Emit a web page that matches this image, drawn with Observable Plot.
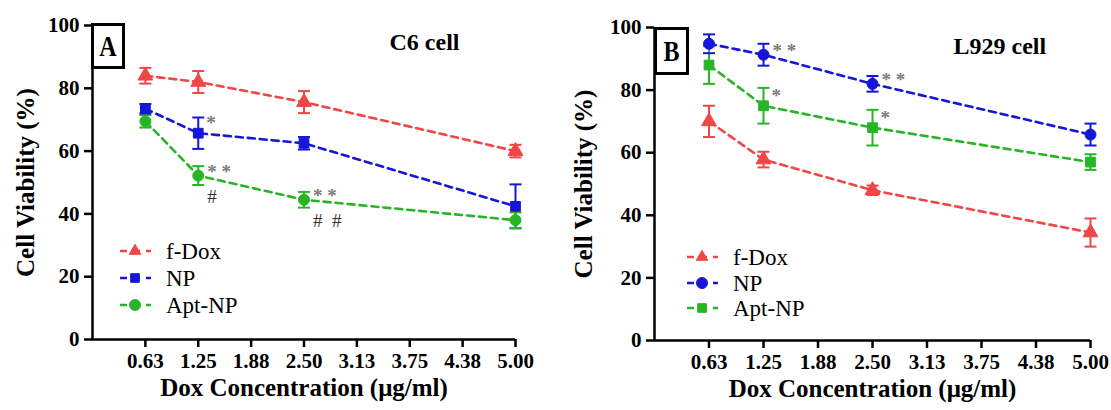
<!DOCTYPE html>
<html><head><meta charset="utf-8">
<script src="https://cdn.jsdelivr.net/npm/d3@7"></script>
<script src="https://cdn.jsdelivr.net/npm/@observablehq/plot@0.6"></script>
<style>
body{margin:0;background:#fff;}
#wrap{position:relative;width:1111px;height:410px;font-family:"Liberation Serif",serif;overflow:hidden;}
#wrap svg, #wrap svg text{font-family:"Liberation Serif",serif !important;}
.panel{position:absolute;top:0;}
.tag{position:absolute;border:3px solid #000;box-sizing:border-box;display:flex;align-items:center;justify-content:center;font-weight:bold;font-size:24px;background:#fff;color:#000;font-family:"Liberation Serif",serif;}
.tag span{display:inline-block;transform:scaleY(1.25);}
</style></head><body><div id="wrap"></div>
<script>
// ---- data ----
const doses = [0.625, 1.25, 2.5, 5];
const xTicks = [0.625, 1.25, 1.875, 2.5, 3.125, 3.75, 4.375, 5];
const xTickLabels = ["0.63", "1.25", "1.88", "2.50", "3.13", "3.75", "4.38", "5.00"];
const yTicks = [0, 20, 40, 60, 80, 100];
const seriesNames = ["f-Dox", "NP", "Apt-NP"];
const seriesColors = ["#ef4646", "#1616d8", "#27b527"];

// Panel A: C6 cell
const aFDox = [84, 82, 75.6, 60];
const aFDoxErr = [2.5, 3.5, 3.5, 2];
const aNP = [73.5, 65.7, 62.5, 42.4];
const aNPErr = [1.5, 5, 2, 7];
const aAptNP = [69.5, 52.2, 44.5, 38];
const aAptNPErr = [2, 3, 2.5, 2.5];
const aSymbols = ["triangle", "square", "circle"];
const aAnnotations = [
  {series: "NP", dose: 1.25, text: "*"},
  {series: "Apt-NP", dose: 1.25, text: "*\u00a0*"},
  {series: "Apt-NP", dose: 1.25, text: "#"},
  {series: "Apt-NP", dose: 2.5, text: "*\u00a0*"},
  {series: "Apt-NP", dose: 2.5, text: "#\u00a0\u00a0#"}
];

// Panel B: L929 cell
const bFDox = [70, 57.8, 48, 34.5];
const bFDoxErr = [5, 2.5, 1.5, 4.5];
const bNP = [94.8, 91.3, 82, 65.8];
const bNPErr = [3, 3.5, 2.5, 3.5];
const bAptNP = [88, 75, 68, 57];
const bAptNPErr = [6, 5.7, 5.7, 2.5];
const bSymbols = ["triangle", "circle", "square"];
const bAnnotations = [
  {series: "NP", dose: 1.25, text: "*\u00a0*"},
  {series: "NP", dose: 2.5, text: "*\u00a0*"},
  {series: "Apt-NP", dose: 1.25, text: "*"},
  {series: "Apt-NP", dose: 2.5, text: "*"}
];

function buildRows(vals, errs) {
  const rows = [];
  seriesNames.forEach((s, k) => {
    doses.forEach((d, i) => rows.push({series: s, dose: d, v: vals[k][i], e: errs[k][i]}));
  });
  return rows;
}

const capSymbol = {draw(ctx) { ctx.moveTo(-6, 0); ctx.lineTo(6, 0); }};
const serif = "Liberation Serif";

function makePanel(cfg) {
  const rows = buildRows(cfg.vals, cfg.errs);
  const lookup = (s, d) => rows.find(r => r.series === s && r.dose === d).v;
  const ann = cfg.ann.map(a => ({...a, v: lookup(a.series, a.dose)}));
  const singleStars = ann.filter(a => a.text === "*");
  const doubleStars = ann.filter(a => a.text.startsWith("*") && a.text !== "*");
  const hashes = ann.filter(a => a.text.startsWith("#"));
  const color = {domain: seriesNames, range: seriesColors};
  const svg = Plot.plot({
    width: cfg.width, height: 410,
    marginLeft: cfg.ml, marginRight: cfg.mr, marginTop: cfg.mt, marginBottom: cfg.mb,
    style: "font-size: 20px; background: transparent; overflow: visible;",
    x: {domain: [0, 5]},
    y: {domain: [0, 100]},
    color,
    symbol: {domain: seriesNames, range: cfg.symbols},
    marks: [
      Plot.line(rows, {x: "dose", y: "v", z: "series", stroke: "series", strokeWidth: 2.6, strokeDasharray: "7,5"}),
      Plot.ruleX(rows, {x: "dose", y1: d => d.v - d.e, y2: d => d.v + d.e, stroke: "series", strokeWidth: 2}),
      Plot.dot(rows, {x: "dose", y: d => d.v + d.e, symbol: capSymbol, stroke: "series", strokeWidth: 2, fill: "none"}),
      Plot.dot(rows, {x: "dose", y: d => d.v - d.e, symbol: capSymbol, stroke: "series", strokeWidth: 2, fill: "none"}),
      Plot.dot(rows, {x: "dose", y: "v", symbol: "series", fill: "series", stroke: "series", strokeWidth: 1, r: 5.5}),
      Plot.text(singleStars, {x: "dose", y: "v", text: "text", textAnchor: "start", dx: 8, dy: -10, fontSize: 19, fontWeight: "bold", fill: "#7a7a7a"}),
      Plot.text(doubleStars, {x: "dose", y: "v", text: "text", textAnchor: "start", dx: 9, dy: -4, fontSize: 19, fontWeight: "bold", fill: "#7a7a7a"}),
      Plot.text(hashes, {x: "dose", y: "v", text: "text", textAnchor: "start", dx: 9, dy: 21, fontSize: 19, fill: "#333"}),
      Plot.ruleX([0], {stroke: "black", strokeWidth: 2.5}),
      Plot.ruleY([0], {stroke: "black", strokeWidth: 2.5}),
      Plot.axisY({ticks: yTicks, tickSize: 8, tickPadding: 5, fontSize: 21, fontWeight: "bold", fontFamily: serif, strokeWidth: 2.5, stroke: "black", fill: "black", label: null}),
      Plot.axisX({ticks: xTicks, tickFormat: d => xTickLabels[xTicks.indexOf(d)], tickSize: 8, tickPadding: 6, fontSize: 21, fontWeight: "bold", fontFamily: serif, strokeWidth: 2.5, stroke: "black", fill: "black", label: null}),
      Plot.text([cfg.xLabel], {frameAnchor: "bottom", dy: 56, fontSize: 25, fontWeight: "bold", fontFamily: serif, fill: "black"}),
      Plot.text([cfg.yLabel], {frameAnchor: "left", textAnchor: "middle", rotate: -90, dx: cfg.yLabelDx, fontSize: 25, fontWeight: "bold", fontFamily: serif, fill: "black"}),
      Plot.text([cfg.title], {frameAnchor: "top-left", textAnchor: "start", dx: cfg.titleDx, dy: cfg.titleDy, fontSize: 24, fontWeight: "bold", fontFamily: serif, fill: "black", lineAnchor: "bottom"})
    ]
  });
  // legend
  const g = d3.select(svg).append("g").attr("class", "legend");
  seriesNames.forEach((s, k) => {
    const y = cfg.legendY[k];
    const row = g.append("g");
    row.append("line").attr("x1", cfg.legendX).attr("x2", cfg.legendX + 31).attr("y1", y).attr("y2", y)
      .attr("stroke", seriesColors[k]).attr("stroke-width", 2.6).attr("stroke-dasharray", "7,6");
    const symName = cfg.symbols[k];
    const sym = symName === "triangle" ? d3.symbolTriangle2 : symName === "square" ? d3.symbolSquare2 : d3.symbolCircle;
    row.append("path").attr("d", d3.symbol(sym, Math.PI * 5.5 * 5.5)())
      .attr("transform", `translate(${cfg.legendX + 15},${y})`).attr("fill", seriesColors[k]).attr("stroke", seriesColors[k]);
    row.append("text").attr("x", cfg.legendX + 46).attr("y", y).attr("dy", "0.35em")
      .attr("text-anchor", "start").attr("font-family", serif)
      .attr("font-size", 23).attr("fill", "black").text(s);
  });
  return svg;
}

const wrap = document.getElementById("wrap");

const svgA = makePanel({
  width: 560, ml: 92, mr: 45, mt: 25, mb: 71,
  vals: [aFDox, aNP, aAptNP], errs: [aFDoxErr, aNPErr, aAptNPErr],
  symbols: aSymbols, ann: aAnnotations,
  xLabel: "Dox Concentration (μg/ml)", yLabel: "Cell Viability (%)", yLabelDx: -67,
  title: "C6 cell", titleDx: 297, titleDy: 24,
  legendX: 120, legendY: [251, 278, 305]
});
const svgB = makePanel({
  width: 551, ml: 94, mr: 21, mt: 27, mb: 70,
  vals: [bFDox, bNP, bAptNP], errs: [bFDoxErr, bNPErr, bAptNPErr],
  symbols: bSymbols, ann: bAnnotations,
  xLabel: "Dox Concentration (μg/ml)", yLabel: "Cell Viability (%)", yLabelDx: -71,
  title: "L929 cell", titleDx: 299, titleDy: 26,
  legendX: 127, legendY: [257, 283, 308]
});

[svgA, svgB].forEach((svg, i) => {
  const div = document.createElement("div");
  div.className = "panel";
  div.style.left = (i === 0 ? 0 : 560) + "px";
  div.appendChild(svg);
  wrap.appendChild(div);
});

const tagA = document.createElement("div");
tagA.className = "tag";
Object.assign(tagA.style, {left: "91px", top: "23px", width: "34px", height: "46px"});
tagA.innerHTML = "<span>A</span>";
wrap.appendChild(tagA);
const tagB = document.createElement("div");
tagB.className = "tag";
Object.assign(tagB.style, {left: "654px", top: "27px", width: "35px", height: "48px"});
tagB.innerHTML = "<span>B</span>";
wrap.appendChild(tagB);
</script>
</body></html>
